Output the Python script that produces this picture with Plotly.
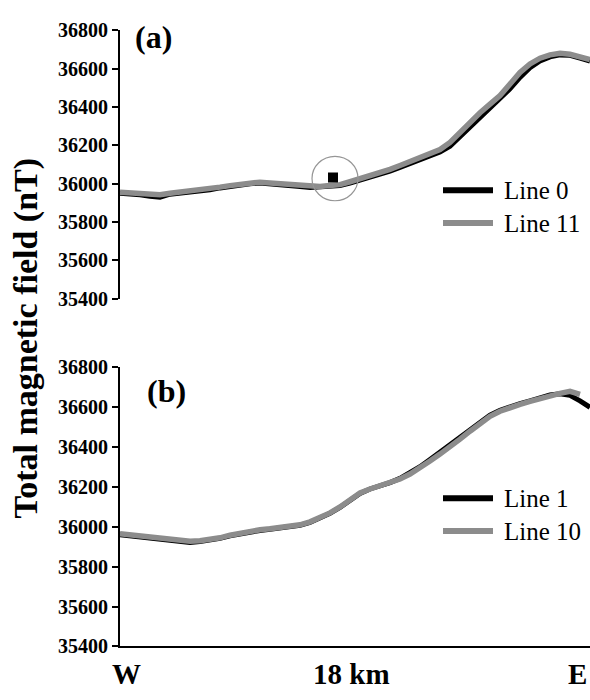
import plotly.graph_objects as go

# distance along profile (km), W -> E
distance_km = [round(i * 0.4, 1) for i in range(48)]

# Panel (a)
line11 = [35955, 35952, 35948, 35945, 35942, 35950, 35955, 35960, 35965, 35972,
          35982, 35990, 35998, 36005, 36008, 36004, 36000, 35995, 35990, 35985,
          35985, 35990, 35995, 36010, 36025, 36040, 36058, 36075, 36095, 36115,
          36135, 36155, 36178, 36215, 36270, 36320, 36370, 36415, 36460, 36520,
          36580, 36625, 36655, 36672, 36680, 36675, 36660, 36648]
line0 = [35950, 35948, 35942, 35935, 35930, 35945, 35950, 35957, 35962, 35968,
         35978, 35986, 35994, 36000, 36003, 36000, 35996, 35990, 35985, 35980,
         35982, 35985, 35990, 36003, 36018, 36032, 36050, 36066, 36085, 36105,
         36125, 36145, 36165, 36195, 36245, 36295, 36345, 36392, 36438, 36495,
         36555, 36605, 36640, 36662, 36672, 36670, 36655, 36640]
spike_km = [8.52]
spike_nT = [36032]

# Panel (b)
line10 = [35965, 35960, 35955, 35948, 35942, 35938, 35932, 35928, 35930, 35935,
          35945, 35958, 35968, 35978, 35985, 35990, 35995, 36002, 36010, 36025,
          36045, 36070, 36100, 36135, 36170, 36190, 36205, 36220, 36240, 36265,
          36295, 36330, 36365, 36400, 36440, 36480, 36520, 36555, 36580, 36600,
          36615, 36630, 36645, 36660, 36670, 36680, 36665]
line1 = [35960, 35955, 35950, 35942, 35936, 35932, 35927, 35922, 35926, 35932,
         35942, 35955, 35965, 35975, 35982, 35988, 35993, 36000, 36008, 36022,
         36043, 36068, 36098, 36132, 36168, 36190, 36205, 36222, 36243, 36270,
         36302, 36338, 36375, 36412, 36452, 36492, 36530, 36560, 36585, 36603,
         36618, 36632, 36648, 36662, 36668, 36660, 36632, 36600]

yticks = [35400, 35600, 35800, 36000, 36200, 36400, 36600, 36800]

FONT = "Liberation Serif"
GRAY = "rgb(140,140,140)"
L, W, H = 120, 470, 700


def px(xp):
    return (xp - L) / W


def py(yp):
    return 1 - yp / H


fig = go.Figure()
fig.add_trace(go.Scatter(x=distance_km, y=line0, mode="lines", name="Line 0",
                         line=dict(color="black", width=5), xaxis="x", yaxis="y"))
fig.add_trace(go.Scatter(x=distance_km, y=line11, mode="lines", name="Line 11",
                         line=dict(color=GRAY, width=5.5), xaxis="x", yaxis="y"))
fig.add_trace(go.Scatter(x=spike_km, y=spike_nT, mode="markers",
                         marker=dict(color="black", size=10, symbol="square"),
                         xaxis="x", yaxis="y"))
fig.add_trace(go.Scatter(x=distance_km, y=line1, mode="lines", name="Line 1",
                         line=dict(color="black", width=5), xaxis="x2", yaxis="y2"))
fig.add_trace(go.Scatter(x=distance_km[:len(line10)], y=line10, mode="lines", name="Line 10",
                         line=dict(color=GRAY, width=5.5), xaxis="x2", yaxis="y2"))

yax = dict(range=[35400, 36800], tickvals=yticks, ticktext=["<b>%d</b>" % v for v in yticks],
           showline=True, linecolor="black",
           linewidth=2, ticks="outside", ticklen=6, tickwidth=2, tickcolor="black",
           showgrid=False, zeroline=False,
           tickfont=dict(family=FONT, size=20, color="black"))
xrng = [0, 18.8]

shapes = [dict(type="circle", xref="x", yref="y",
               x0=8.6 - 0.92, x1=8.6 + 0.92, y0=36027 - 116, y1=36027 + 116,
               line=dict(color="rgb(150,150,150)", width=1.2))]
annotations = [
    dict(text="<b>(a)</b>", x=px(133), y=py(27), xanchor="left", yanchor="middle",
         font=dict(family=FONT, size=32, color="black")),
    dict(text="<b>(b)</b>", x=px(145), y=py(392), xanchor="left", yanchor="middle",
         font=dict(family=FONT, size=32, color="black")),
    dict(text="<b>Total magnetic field (nT)</b>", x=px(26), y=py(338), textangle=-90,
         xanchor="center", yanchor="middle",
         font=dict(family=FONT, size=34, color="black")),
    dict(text="<b>W</b>", x=px(126), y=py(685), xanchor="center", yanchor="middle",
         font=dict(family=FONT, size=29, color="black")),
    dict(text="<b>18 km</b>", x=px(351), y=py(685), xanchor="center", yanchor="middle",
         font=dict(family=FONT, size=29, color="black")),
    dict(text="<b>E</b>", x=px(566), y=py(685), xanchor="left", yanchor="middle",
         font=dict(family=FONT, size=29, color="black")),
]

# manual legends
legend_items = [("Line 0", "black", 185), ("Line 11", GRAY, 219),
                ("Line 1", "black", 503), ("Line 10", GRAY, 537)]
for name, col, yp in legend_items:
    shapes.append(dict(type="line", xref="paper", yref="paper",
                       x0=px(443), x1=px(493), y0=py(yp), y1=py(yp),
                       line=dict(color=col, width=6)))
    annotations.append(dict(text=name, x=px(502), y=py(yp), xanchor="left",
                            yanchor="middle",
                            font=dict(family=FONT, size=25, color="black")))

for a in annotations:
    a.update(xref="paper", yref="paper", showarrow=False)

fig.update_layout(
    width=590, height=700,
    margin=dict(l=L, r=0, t=0, b=0),
    paper_bgcolor="white", plot_bgcolor="white",
    showlegend=False,
    xaxis=dict(domain=[0, 1], range=xrng, showline=False, showticklabels=False,
               showgrid=False, zeroline=False, anchor="y"),
    yaxis=dict(domain=[py(297), py(20)], anchor="x", **yax),
    xaxis2=dict(domain=[0, 1], range=xrng, showline=True, linecolor="black",
                linewidth=2, showticklabels=False, showgrid=False, zeroline=False,
                anchor="y2"),
    yaxis2=dict(domain=[py(656), py(368)], anchor="x2", **yax),
    shapes=shapes,
    annotations=annotations,
)

fig.write_html("out.html", config={"displayModeBar": False},
               post_script="document.body.style.margin='0';document.body.style.overflow='hidden';")
